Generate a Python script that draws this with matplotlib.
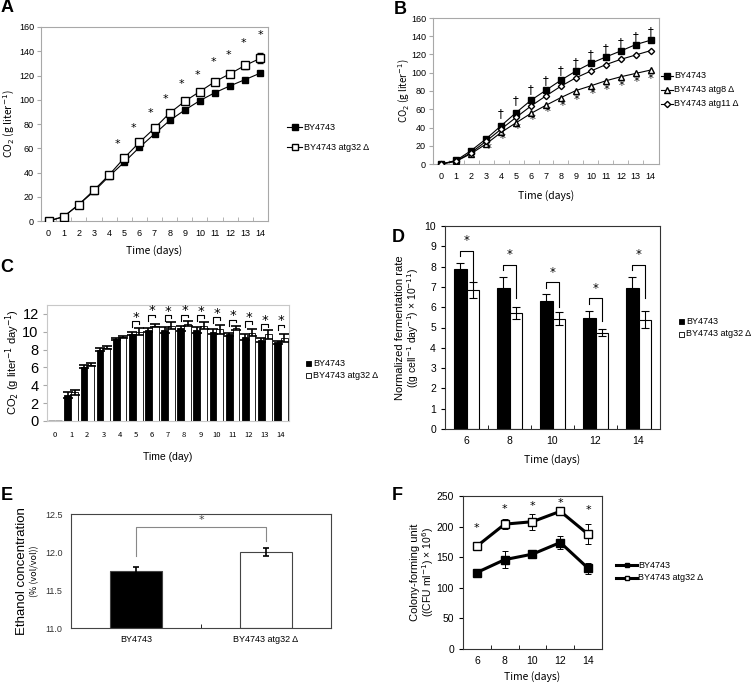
import matplotlib
matplotlib.use('Agg')
import matplotlib.pyplot as plt
import numpy as np
from matplotlib.patches import Rectangle

W, H = 754, 684
plt.rcParams['font.family'] = ['Noto Sans CJK JP', 'DejaVu Sans']
plt.rcParams['mathtext.fontset'] = 'dejavusans'
plt.rcParams['axes.linewidth'] = 0.8
NARROW = ['Liberation Sans Narrow', 'Liberation Sans', 'DejaVu Sans']

# ---------------- data ----------------
days = list(range(15))
# Panel A
a_wt = [0, 3.6, 13.6, 24.4, 36.9, 48.5, 60.7, 71.8, 82.9, 91.5, 99.3, 105.9, 111.5, 116.7, 122.0]
a_atg32 = [0, 3.6, 13.6, 25.5, 38.0, 52.0, 64.9, 76.5, 89.0, 98.7, 106.8, 115.0, 121.5, 128.4, 134.2]
a_atg32_err = [0, 0, 0, 0, 0, 0.5, 0.5, 0.5, 0.5, 0.8, 1.0, 1.5, 2.0, 3.0, 4.0]
a_star_x = [4.55, 5.6, 6.7, 7.7, 8.8, 9.85, 10.9, 11.9, 12.85, 14]
a_star_y = [63.8, 77, 88.7, 100.4, 112.6, 120.4, 131.4, 137.3, 146.4, 153]
# Panel B
b_wt = [0, 4, 14.7, 27.6, 41.9, 56.3, 69.9, 80.9, 91.9, 101.9, 110.3, 117.3, 123.9, 130.9, 135.7]
b_atg8 = [0, 3, 11.4, 22, 34.6, 45.2, 55.5, 64.4, 72.8, 80.5, 85.7, 91.2, 95.6, 99.3, 103]
b_atg11 = [0, 3.3, 12.5, 25, 38.2, 51.1, 63.6, 74.7, 85.3, 94.5, 101.9, 108.9, 114.7, 119.5, 124.3]
b_dag_x = [4, 5, 6, 7, 8, 9, 10, 11, 12, 13, 14]
b_dag_y = [54.8, 69.5, 81.3, 91.5, 102.2, 111.4, 119.9, 126.5, 132.8, 140.1, 145.3]
b_star_x = [3.17, 4.12, 5.13, 6.09, 7.09, 8.09, 9.03, 10.1, 11.08, 12.04, 13.04, 13.98]
b_star_y = [16.9, 28, 38.6, 48.9, 57.4, 64.4, 71, 77.2, 82, 86.4, 90.5, 93.8]
# Panel C
c_wt = [0, 2.9, 6.1, 8.0, 9.2, 9.8, 10.2, 10.2, 10.4, 10.2, 10.0, 9.7, 9.4, 9.1, 8.8]
c_wt_err = [0, 0.3, 0.15, 0.15, 0.15, 0.2, 0.2, 0.3, 0.3, 0.3, 0.3, 0.2, 0.3, 0.2, 0.2]
c_atg32 = [0, 3.2, 6.3, 8.2, 9.4, 10.0, 10.7, 10.7, 10.9, 10.7, 10.3, 10.4, 9.9, 9.7, 9.3]
c_atg32_err = [0, 0.3, 0.15, 0.15, 0.15, 0.4, 0.2, 0.4, 0.3, 0.4, 0.5, 0.2, 0.4, 0.5, 0.5]
c_sig_days = [5, 6, 7, 8, 9, 10, 11, 12, 13, 14]
c_brk_y = [11.17, 11.9, 11.84, 11.9, 11.84, 11.6, 11.35, 11.17, 10.86, 10.8]
# Panel D
d_days = ['6', '8', '10', '12', '14']
d_wt = [7.87, 6.93, 6.33, 5.49, 6.93]
d_wt_err = [0.33, 0.57, 0.33, 0.33, 0.55]
d_atg32 = [6.85, 5.70, 5.43, 4.75, 5.38]
d_atg32_err = [0.38, 0.30, 0.33, 0.17, 0.42]
d_brk_y = [8.79, 8.08, 7.23, 6.44, 8.08]
d_brk_right_end = [7.18, 6.44, 6.03, 5.33, 6.44]
# Panel E
e_strains = ['BY4743', 'BY4743 atg32 Δ']
e_vals = [11.75, 12.0]
e_errs = [0.05, 0.05]
# Panel F
f_days = ['6', '8', '10', '12', '14']
f_wt = [125, 146, 155, 174, 132]
f_wt_err = [6, 14, 6, 10, 9]
f_atg32 = [168, 204, 208, 225, 187.5]
f_atg32_err = [7, 8, 13, 6, 16]
f_star_y = [197, 228, 234, 239, 227]

# ---------------- figure ----------------
fig = plt.figure(figsize=(W / 100, H / 100), dpi=100)


def pax(l, t, r, b):
    return fig.add_axes([l / W, 1 - b / H, (r - l) / W, (b - t) / H])


def style_spines(ax, color):
    for s in ax.spines.values():
        s.set_color(color)
        s.set_linewidth(0.8)


def set_tick_font(ax, family):
    for lab in ax.get_xticklabels() + ax.get_yticklabels():
        lab.set_family(family)


GRAY = '#a8a8a8'
star_font = dict(family='DejaVu Sans', ha='center', va='center')

# ---- Panel A ----
axA = pax(41, 27, 268, 221)
axA.plot(days, a_wt, color='k', lw=0.8, marker='s', mfc='k', mec='k', ms=5, zorder=3)
axA.errorbar(days, a_atg32, yerr=a_atg32_err, color='k', lw=0.8, marker='s', mfc='white',
             mec='k', ms=5.5, capsize=2, elinewidth=0.6, zorder=4)
for x, y in zip(a_star_x, a_star_y):
    axA.text(x, y, '*', fontsize=8, **star_font)
axA.set_xlim(-0.5, 14.5)
axA.set_ylim(0, 160)
axA.set_yticks(range(0, 161, 20))
axA.set_xticks(days)
axA.set_xticks(np.arange(0.5, 14, 1), minor=True)
axA.tick_params(axis='x', which='major', length=0, labelsize=6.5, pad=6)
axA.tick_params(axis='x', which='minor', direction='in', length=3, color=GRAY)
axA.tick_params(axis='y', labelsize=6.5, length=3, color=GRAY, pad=2)
set_tick_font(axA, NARROW)
style_spines(axA, GRAY)
axA.set_xlabel('Time (days)', fontsize=7.5, labelpad=5)

# ---- Panel B ----
axB = pax(433, 18, 659, 164)
axB.plot(days, b_wt, color='k', lw=0.8, marker='s', mfc='k', mec='k', ms=4, zorder=3)
axB.plot(days, b_atg8, color='k', lw=0.8, marker='^', mfc='white', mec='k', ms=4, zorder=3)
axB.plot(days, b_atg11, color='k', lw=0.8, marker='D', mfc='white', mec='k', ms=3.2, zorder=3)
for x, y in zip(b_dag_x, b_dag_y):
    axB.text(x, y, '†', fontsize=8.5, family='DejaVu Sans', ha='center', va='center')
for x, y in zip(b_star_x, b_star_y):
    axB.text(x, y, '*', fontsize=8.5, **star_font)
axB.set_xlim(-0.55, 14.55)
axB.set_ylim(0, 160)
axB.set_yticks(range(0, 161, 20))
axB.set_xticks(days)
axB.set_xticks(np.arange(0.5, 14, 1), minor=True)
axB.tick_params(axis='x', which='major', length=0, labelsize=6.5, pad=6)
axB.tick_params(axis='x', which='minor', direction='in', length=3, color=GRAY)
axB.tick_params(axis='y', labelsize=6.5, length=3, color=GRAY, pad=2)
set_tick_font(axB, NARROW)
style_spines(axB, GRAY)
axB.set_xlabel('Time (days)', fontsize=7.5, labelpad=6)

# ---- Panel C ----
axC = pax(47, 305, 289, 421)
xc = np.arange(len(days))
bw = 0.42
edge_c = ['#999999' if v == 0 else 'k' for v in c_wt]
lw_c = [1.8 if v == 0 else 0.6 for v in c_wt]
axC.bar(xc - bw / 2, c_wt, bw, color='k', edgecolor=edge_c, linewidth=lw_c, zorder=2)
axC.bar(xc + bw / 2, c_atg32, bw, color='white', edgecolor=edge_c, linewidth=lw_c, zorder=2)
mask = [i for i, v in enumerate(c_wt) if v > 0]
axC.errorbar(xc[mask] - bw / 2, np.array(c_wt)[mask], yerr=np.array(c_wt_err)[mask], fmt='none',
             ecolor='k', elinewidth=1.2, capsize=3.5, capthick=1.2, zorder=3)
axC.errorbar(xc[mask] + bw / 2, np.array(c_atg32)[mask], yerr=np.array(c_atg32_err)[mask], fmt='none',
             ecolor='k', elinewidth=1.2, capsize=3.5, capthick=1.2, zorder=3)
for d, yb in zip(c_sig_days, c_brk_y):
    xl, xr = d - bw / 2, d + bw / 2
    axC.plot([xl, xl, xr, xr], [yb - 0.65, yb, yb, yb - 0.3], color='k', lw=0.8, zorder=4)
    axC.text(d + 0.02, yb + 0.45, '*', fontsize=9.5, **star_font)
axC.set_xlim(-0.5, 14.5)
axC.set_ylim(0, 13)
axC.set_yticks(range(0, 13, 2))
axC.set_xticks(xc)
axC.set_xticklabels([str(d) for d in days])
axC.tick_params(axis='x', length=0, labelsize=5.5, pad=7)
axC.tick_params(axis='y', labelsize=10.5, length=3, color=GRAY, pad=3)
for lab in axC.get_yticklabels():
    lab.set_family('Liberation Sans')
style_spines(axC, '#c8c8c8')

# ---- Panel D ----
axD = pax(445, 226, 660, 429)
xd = np.arange(len(d_days))
bwd = 0.287
axD.bar(xd - bwd / 2, d_wt, bwd, color='k', edgecolor='k', linewidth=0.8, zorder=2)
axD.bar(xd + bwd / 2, d_atg32, bwd, color='white', edgecolor='k', linewidth=0.8, zorder=2)
axD.errorbar(xd - bwd / 2, d_wt, yerr=d_wt_err, fmt='none', ecolor='k', elinewidth=0.8,
             capsize=3, capthick=0.8, zorder=3)
axD.errorbar(xd + bwd / 2, d_atg32, yerr=d_atg32_err, fmt='none', ecolor='k', elinewidth=0.8,
             capsize=3, capthick=0.8, zorder=3)
for i, (yb, yr) in enumerate(zip(d_brk_y, d_brk_right_end)):
    xl, xr = i - bwd / 2, i + bwd / 2
    axD.plot([xl, xl, xr, xr], [yb - 0.27, yb, yb, yr], color='k', lw=0.8, zorder=4)
    axD.text(i, yb + 0.5, '*', fontsize=8.5, **star_font)
axD.set_xlim(-0.5, 4.5)
axD.set_ylim(0, 10)
axD.set_yticks(range(0, 11))
axD.set_xticks(xd)
axD.set_xticklabels(d_days)
axD.set_xticks(np.arange(0.5, 4, 1), minor=True)
axD.tick_params(axis='x', which='major', length=0, labelsize=7.5, pad=5)
axD.tick_params(axis='x', which='minor', direction='in', length=3)
axD.tick_params(axis='y', labelsize=7.5, length=3, direction='out')
set_tick_font(axD, 'Liberation Sans')
style_spines(axD, '#333333')
axD.set_xlabel('Time (days)', fontsize=7.5, labelpad=6)

# ---- Panel E ----
axE = pax(71, 514, 331, 628)
xe = np.arange(len(e_strains))
axE.bar(xe, [v - 11.0 for v in e_vals], 0.4, bottom=11.0, color=['k', 'white'],
        edgecolor='#444444', linewidth=0.8, zorder=2)
axE.errorbar(xe, e_vals, yerr=e_errs, fmt='none', ecolor='k', elinewidth=1.2, capsize=2.5,
             capthick=1.2, zorder=3)
axE.plot([0, 0, 1, 1], [11.95, 12.33, 12.33, 12.15], color='#888888', lw=0.8, zorder=4)
axE.text(0.5, 12.42, '*', fontsize=8, color='#444444', **star_font)
axE.set_xlim(-0.5, 1.5)
axE.set_ylim(11.0, 12.5)
axE.set_yticks([11.0, 11.5, 12.0, 12.5])
axE.set_yticklabels(['11.0', '11.5', '12.0', '12.5'])
axE.set_xticks(xe)
axE.set_xticklabels(e_strains)
axE.set_xticks([0.5], minor=True)
axE.tick_params(axis='x', which='major', length=0, labelsize=6.5, pad=5)
axE.tick_params(axis='x', which='minor', direction='in', length=3)
axE.tick_params(axis='y', labelsize=6.5, length=0, pad=6, labelcolor='#333333')
set_tick_font(axE, NARROW)
style_spines(axE, '#444444')

# ---- Panel F ----
axF = pax(463, 496, 602, 649)
xf = np.arange(len(f_days))
axF.errorbar(xf, f_wt, yerr=f_wt_err, color='k', lw=2.2, marker='s', mfc='k', mec='k', ms=5.5,
             ecolor='k', elinewidth=0.7, capsize=2.5, capthick=0.7, zorder=3)
axF.errorbar(xf, f_atg32, yerr=f_atg32_err, color='k', lw=2.2, marker='s', mfc='white', mec='k',
             ms=6, ecolor='k', elinewidth=0.7, capsize=2.5, capthick=0.7, zorder=3)
for i, y in enumerate(f_star_y):
    axF.text(i, y, '*', fontsize=8, **star_font)
axF.set_xlim(-0.5, 4.5)
axF.set_ylim(0, 250)
axF.set_yticks(range(0, 251, 50))
axF.set_xticks(xf)
axF.set_xticklabels(f_days)
axF.set_xticks(np.arange(0.5, 4, 1), minor=True)
axF.tick_params(axis='x', which='major', length=0, labelsize=7.5, pad=5)
axF.tick_params(axis='x', which='minor', direction='in', length=3)
axF.tick_params(axis='y', labelsize=7.5, length=3)
set_tick_font(axF, NARROW)
style_spines(axF, '#333333')
axF.set_xlabel('Time (days)', fontsize=7.5, labelpad=4)

# ---------------- overlay: letters, y labels, legends ----------------
ov = fig.add_axes([0, 0, 1, 1])
ov.set_xlim(0, W)
ov.set_ylim(H, 0)
ov.axis('off')
ov.patch.set_alpha(0)

letter = dict(fontsize=13, fontweight='bold', family='Liberation Sans', ha='left', va='center')
ov.text(1, 8, 'A', **letter)
ov.text(394, 10, 'B', **letter)
ov.text(0, 268, 'C', **letter)
ov.text(392, 238, 'D', **letter)
ov.text(1, 496, 'E', **letter)
ov.text(392, 496, 'F', **letter)

ov.text(9, 124, 'CO$_2$ (g liter$^{-1}$)', rotation=90, fontsize=7.5, ha='center', va='center')
ov.text(404, 91, 'CO$_2$ (g liter$^{-1}$)', rotation=90, fontsize=7, ha='center', va='center')
ov.text(13, 362, 'CO$_2$ (g liter$^{-1}$ day$^{-1}$)', rotation=90, fontsize=8, ha='center',
        va='center', family='Liberation Sans')
ov.text(400, 328, 'Normalized fermentation rate', rotation=90, fontsize=8, ha='center',
        va='center', family='Liberation Sans')
ov.text(413, 328, '((g cell$^{-1}$ day$^{-1}$) × 10$^{-11}$)', rotation=90, fontsize=7.5,
        ha='center', va='center', family='Liberation Sans')
ov.text(22, 571, 'Ethanol concentration', rotation=90, fontsize=9.5, ha='center', va='center',
        family='Liberation Sans')
ov.text(35, 571, '(% (vol/vol))', rotation=90, fontsize=6.5, ha='center', va='center')
ov.text(415, 572, 'Colony-forming unit', rotation=90, fontsize=8, ha='center', va='center',
        family='Liberation Sans')
ov.text(428, 572, '((CFU ml$^{-1}$) × 10$^{6}$)', rotation=90, fontsize=7.5, ha='center',
        va='center', family='Liberation Sans')
ov.text(168, 457, 'Time (day)', fontsize=7.5, ha='center', va='center', family='Liberation Sans')


def leg_line(x0, x1, y, text, marker, mfc, ms, lw=0.8):
    ov.plot([x0, x1], [y, y], color='k', lw=lw)
    ov.plot([(x0 + x1) / 2], [y], marker=marker, mfc=mfc, mec='k', ms=ms, color='k')
    ov.text(x1 + 1.5, y, text, fontsize=6.5, ha='left', va='center', family=NARROW)


def leg_box(x, y, fc, text):
    ov.add_patch(Rectangle((x - 2.5, y - 2.5), 5, 5, facecolor=fc, edgecolor='k', lw=0.6))
    ov.text(x + 5, y, text, fontsize=6.5, ha='left', va='center', family=NARROW)


leg_line(287, 302, 127, 'BY4743', 's', 'k', 5)
leg_line(287, 302, 147, 'BY4743 atg32 Δ', 's', 'white', 5)
leg_line(661, 673, 76, 'BY4743', 's', 'k', 4)
leg_line(661, 673, 90, 'BY4743 atg8 Δ', '^', 'white', 4)
leg_line(661, 673, 104, 'BY4743 atg11 Δ', 'D', 'white', 3.2)
leg_box(308, 363, 'k', 'BY4743')
leg_box(308, 375, 'white', 'BY4743 atg32 Δ')
leg_box(681, 321, 'k', 'BY4743')
leg_box(681, 334, 'white', 'BY4743 atg32 Δ')
leg_line(616, 637, 565, 'BY4743', 's', 'k', 3.5, lw=2.2)
leg_line(616, 637, 578, 'BY4743 atg32 Δ', 's', 'white', 3.5, lw=2.2)

fig.savefig('out.png', dpi=100)
